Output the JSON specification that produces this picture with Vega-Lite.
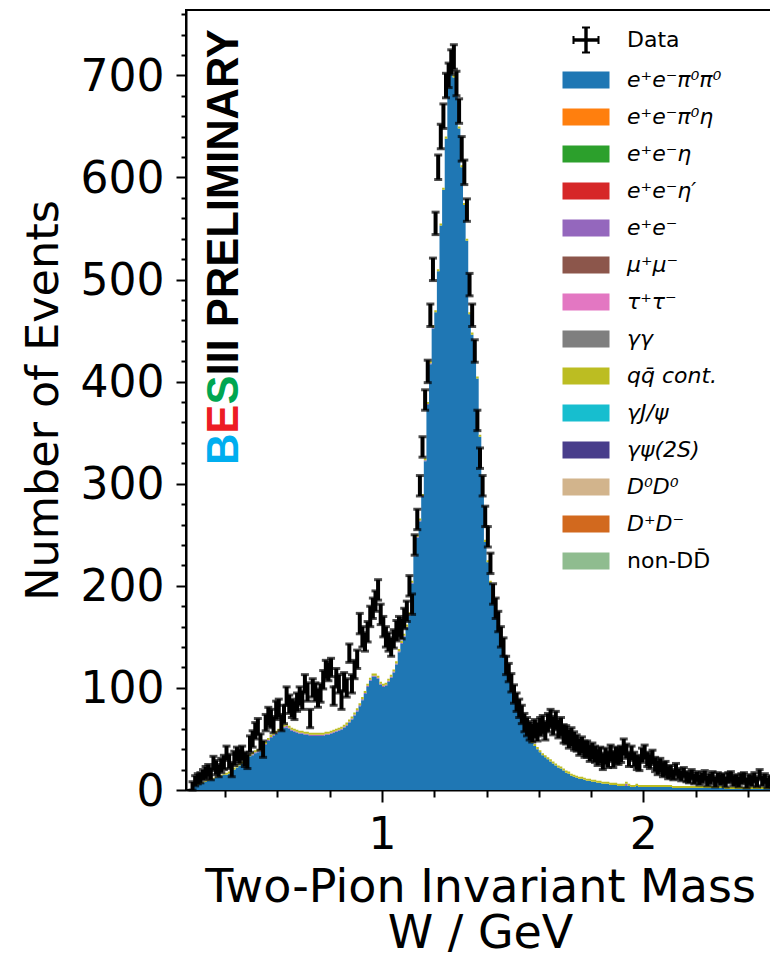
{
"$schema":"https://vega.github.io/schema/vega-lite/v6.json",
"width":588,"height":780,
"autosize":{"type":"none"},
"padding":{"left":186,"top":10,"right":0,"bottom":169},
"background":"white",
"config":{"font":"DejaVu Sans","view":{"stroke":"black","strokeWidth":2},"axis":{"grid":false}},
"resolve":{"axis":{"x":"independent","y":"independent"}},
"data":{"values":[
{"w":0.275,"d":4,"e":4,"a":2,"b":0,"c":0},
{"w":0.285,"d":9,"e":5,"a":4,"b":0,"c":0},
{"w":0.295,"d":11,"e":5,"a":5,"b":0,"c":1},
{"w":0.305,"d":12,"e":5,"a":6,"b":0,"c":1},
{"w":0.315,"d":15,"e":5,"a":7,"b":0,"c":1},
{"w":0.325,"d":17,"e":6,"a":8,"b":0,"c":1},
{"w":0.335,"d":19,"e":6,"a":9,"b":0,"c":1},
{"w":0.345,"d":16,"e":6,"a":10,"b":0,"c":1},
{"w":0.355,"d":26,"e":7,"a":11,"b":0,"c":1},
{"w":0.365,"d":22,"e":7,"a":12,"b":0,"c":1},
{"w":0.375,"d":19,"e":6,"a":13,"b":0,"c":1},
{"w":0.385,"d":24,"e":7,"a":14,"b":0,"c":1},
{"w":0.395,"d":27,"e":7,"a":15,"b":0,"c":1},
{"w":0.405,"d":36,"e":7,"a":15,"b":0,"c":2},
{"w":0.415,"d":28,"e":7,"a":16,"b":0,"c":2},
{"w":0.425,"d":20,"e":7,"a":18,"b":0,"c":2},
{"w":0.435,"d":31,"e":7,"a":20,"b":0,"c":2},
{"w":0.445,"d":35,"e":7,"a":22,"b":0,"c":2},
{"w":0.455,"d":33,"e":7,"a":24,"b":0,"c":2},
{"w":0.465,"d":36,"e":7,"a":26,"b":0,"c":2},
{"w":0.475,"d":30,"e":7,"a":29,"b":0,"c":2},
{"w":0.485,"d":28,"e":7,"a":31,"b":0,"c":2},
{"w":0.495,"d":45,"e":8,"a":33,"b":0,"c":2},
{"w":0.505,"d":50,"e":8,"a":34,"b":1,"c":2},
{"w":0.515,"d":58,"e":8,"a":36,"b":1,"c":2},
{"w":0.525,"d":62,"e":8,"a":37,"b":1,"c":2},
{"w":0.535,"d":47,"e":8,"a":38,"b":1,"c":2},
{"w":0.545,"d":40,"e":8,"a":40,"b":1,"c":2},
{"w":0.555,"d":66,"e":8,"a":44,"b":1,"c":2},
{"w":0.565,"d":72,"e":9,"a":48,"b":1,"c":2},
{"w":0.575,"d":70,"e":9,"a":51,"b":1,"c":2},
{"w":0.585,"d":64,"e":8,"a":53,"b":1,"c":2},
{"w":0.595,"d":78,"e":9,"a":55,"b":1,"c":2},
{"w":0.605,"d":80,"e":9,"a":57,"b":1,"c":2},
{"w":0.615,"d":66,"e":8,"a":59,"b":1,"c":2},
{"w":0.625,"d":74,"e":9,"a":61,"b":1,"c":2},
{"w":0.635,"d":92,"e":9,"a":61,"b":2,"c":2},
{"w":0.645,"d":84,"e":9,"a":60,"b":1,"c":2},
{"w":0.655,"d":80,"e":9,"a":58,"b":1,"c":2},
{"w":0.665,"d":78,"e":9,"a":57,"b":1,"c":2},
{"w":0.675,"d":86,"e":9,"a":56,"b":1,"c":2},
{"w":0.685,"d":92,"e":9,"a":55,"b":1,"c":2},
{"w":0.695,"d":88,"e":9,"a":55,"b":1,"c":2},
{"w":0.705,"d":104,"e":9,"a":54,"b":1,"c":2},
{"w":0.715,"d":96,"e":9,"a":54,"b":1,"c":2},
{"w":0.725,"d":70,"e":9,"a":53,"b":1,"c":2},
{"w":0.735,"d":100,"e":9,"a":53,"b":1,"c":2},
{"w":0.745,"d":96,"e":9,"a":53,"b":1,"c":2},
{"w":0.755,"d":90,"e":9,"a":53,"b":1,"c":2},
{"w":0.765,"d":95,"e":9,"a":53,"b":1,"c":2},
{"w":0.775,"d":108,"e":9,"a":53,"b":1,"c":2},
{"w":0.785,"d":118,"e":9,"a":54,"b":1,"c":2},
{"w":0.795,"d":116,"e":9,"a":54,"b":1,"c":2},
{"w":0.805,"d":120,"e":9,"a":55,"b":1,"c":2},
{"w":0.815,"d":92,"e":9,"a":56,"b":1,"c":2},
{"w":0.825,"d":110,"e":9,"a":57,"b":1,"c":2},
{"w":0.835,"d":104,"e":9,"a":58,"b":1,"c":2},
{"w":0.845,"d":88,"e":9,"a":59,"b":1,"c":2},
{"w":0.855,"d":106,"e":9,"a":61,"b":1,"c":2},
{"w":0.865,"d":100,"e":9,"a":63,"b":1,"c":2},
{"w":0.875,"d":134,"e":9,"a":66,"b":1,"c":2},
{"w":0.885,"d":104,"e":9,"a":69,"b":1,"c":2},
{"w":0.895,"d":118,"e":9,"a":73,"b":1,"c":2},
{"w":0.905,"d":128,"e":9,"a":77,"b":1,"c":2},
{"w":0.915,"d":163,"e":10,"a":82,"b":1,"c":2},
{"w":0.925,"d":150,"e":10,"a":88,"b":1,"c":2},
{"w":0.935,"d":145,"e":9,"a":94,"b":1,"c":2},
{"w":0.945,"d":155,"e":10,"a":101,"b":1,"c":2},
{"w":0.955,"d":170,"e":10,"a":107,"b":1,"c":2},
{"w":0.965,"d":178,"e":10,"a":111,"b":1,"c":2},
{"w":0.975,"d":185,"e":10,"a":111,"b":1,"c":2},
{"w":0.985,"d":196,"e":10,"a":109,"b":1,"c":2},
{"w":0.995,"d":172,"e":10,"a":103,"b":1,"c":2},
{"w":1.005,"d":160,"e":10,"a":101,"b":1,"c":2},
{"w":1.015,"d":150,"e":10,"a":102,"b":1,"c":2},
{"w":1.025,"d":145,"e":9,"a":106,"b":1,"c":2},
{"w":1.035,"d":140,"e":9,"a":110,"b":1,"c":2},
{"w":1.045,"d":148,"e":9,"a":115,"b":1,"c":2},
{"w":1.055,"d":156,"e":10,"a":123,"b":1,"c":2},
{"w":1.065,"d":160,"e":10,"a":135,"b":1,"c":2},
{"w":1.075,"d":158,"e":10,"a":143,"b":1,"c":2},
{"w":1.085,"d":168,"e":10,"a":150,"b":1,"c":2},
{"w":1.095,"d":175,"e":10,"a":159,"b":1,"c":2},
{"w":1.105,"d":200,"e":10,"a":171,"b":1,"c":2},
{"w":1.115,"d":182,"e":10,"a":202,"b":1,"c":2},
{"w":1.125,"d":240,"e":10,"a":229,"b":1,"c":2},
{"w":1.135,"d":265,"e":10,"a":247,"b":1,"c":2},
{"w":1.145,"d":298,"e":10,"a":263,"b":1,"c":2},
{"w":1.155,"d":336,"e":10,"a":287,"b":1,"c":2},
{"w":1.165,"d":382,"e":10,"a":322,"b":1,"c":2},
{"w":1.175,"d":410,"e":11,"a":377,"b":1,"c":2},
{"w":1.185,"d":465,"e":11,"a":417,"b":1,"c":2},
{"w":1.195,"d":510,"e":11,"a":452,"b":1,"c":2},
{"w":1.205,"d":555,"e":11,"a":468,"b":0,"c":2},
{"w":1.215,"d":610,"e":12,"a":508,"b":0,"c":2},
{"w":1.225,"d":640,"e":12,"a":553,"b":0,"c":2},
{"w":1.235,"d":660,"e":12,"a":588,"b":0,"c":2},
{"w":1.245,"d":690,"e":12,"a":638,"b":0,"c":2},
{"w":1.255,"d":700,"e":12,"a":688,"b":0,"c":2},
{"w":1.265,"d":713,"e":12,"a":704,"b":0,"c":2},
{"w":1.275,"d":718,"e":12,"a":698,"b":0,"c":2},
{"w":1.285,"d":692,"e":12,"a":680,"b":0,"c":2},
{"w":1.295,"d":665,"e":12,"a":648,"b":0,"c":2},
{"w":1.305,"d":628,"e":12,"a":610,"b":0,"c":2},
{"w":1.315,"d":605,"e":12,"a":573,"b":0,"c":2},
{"w":1.325,"d":568,"e":11,"a":538,"b":0,"c":2},
{"w":1.335,"d":495,"e":11,"a":466,"b":0,"c":2},
{"w":1.345,"d":465,"e":11,"a":446,"b":0,"c":2},
{"w":1.355,"d":430,"e":11,"a":428,"b":0,"c":2},
{"w":1.365,"d":362,"e":10,"a":403,"b":0,"c":2},
{"w":1.375,"d":325,"e":10,"a":346,"b":0,"c":2},
{"w":1.385,"d":298,"e":10,"a":303,"b":0,"c":2},
{"w":1.395,"d":268,"e":10,"a":243,"b":0,"c":2},
{"w":1.405,"d":248,"e":10,"a":223,"b":0,"c":2},
{"w":1.415,"d":222,"e":10,"a":203,"b":0,"c":2},
{"w":1.425,"d":192,"e":10,"a":188,"b":0,"c":2},
{"w":1.435,"d":178,"e":10,"a":174,"b":0,"c":2},
{"w":1.445,"d":165,"e":10,"a":162,"b":0,"c":2},
{"w":1.455,"d":150,"e":10,"a":152,"b":0,"c":2},
{"w":1.465,"d":140,"e":9,"a":140,"b":0,"c":2},
{"w":1.475,"d":122,"e":9,"a":128,"b":0,"c":2},
{"w":1.485,"d":115,"e":9,"a":117,"b":0,"c":2},
{"w":1.495,"d":105,"e":9,"a":105,"b":0,"c":2},
{"w":1.505,"d":94,"e":9,"a":94,"b":0,"c":2},
{"w":1.515,"d":86,"e":9,"a":85,"b":0,"c":2},
{"w":1.525,"d":80,"e":9,"a":76,"b":0,"c":2},
{"w":1.535,"d":74,"e":9,"a":68,"b":0,"c":2},
{"w":1.545,"d":66,"e":9,"a":61,"b":0,"c":2},
{"w":1.555,"d":62,"e":9,"a":55,"b":0,"c":2},
{"w":1.565,"d":58,"e":9,"a":50,"b":0,"c":2},
{"w":1.575,"d":56,"e":9,"a":46,"b":0,"c":2},
{"w":1.585,"d":60,"e":9,"a":43,"b":0,"c":2},
{"w":1.595,"d":57,"e":9,"a":40,"b":0,"c":2},
{"w":1.605,"d":62,"e":9,"a":37,"b":0,"c":2},
{"w":1.615,"d":64,"e":9,"a":34,"b":0,"c":2},
{"w":1.625,"d":58,"e":9,"a":32,"b":0,"c":2},
{"w":1.635,"d":66,"e":9,"a":30,"b":0,"c":2},
{"w":1.645,"d":70,"e":9,"a":28,"b":0,"c":2},
{"w":1.655,"d":63,"e":9,"a":26,"b":0,"c":2},
{"w":1.665,"d":68,"e":9,"a":24,"b":0,"c":2},
{"w":1.675,"d":60,"e":9,"a":22,"b":0,"c":2},
{"w":1.685,"d":62,"e":9,"a":21,"b":0,"c":2},
{"w":1.695,"d":55,"e":9,"a":19,"b":0,"c":2},
{"w":1.705,"d":54,"e":9,"a":17,"b":0,"c":2},
{"w":1.715,"d":50,"e":9,"a":16,"b":0,"c":2},
{"w":1.725,"d":52,"e":9,"a":14,"b":0,"c":2},
{"w":1.735,"d":48,"e":9,"a":13,"b":0,"c":2},
{"w":1.745,"d":46,"e":8,"a":12,"b":0,"c":2},
{"w":1.755,"d":42,"e":8,"a":11,"b":0,"c":2},
{"w":1.765,"d":44,"e":8,"a":11,"b":0,"c":2},
{"w":1.775,"d":40,"e":8,"a":10,"b":0,"c":2},
{"w":1.785,"d":40,"e":8,"a":9,"b":0,"c":2},
{"w":1.795,"d":36,"e":8,"a":9,"b":0,"c":2},
{"w":1.805,"d":38,"e":8,"a":8,"b":0,"c":2},
{"w":1.815,"d":35,"e":8,"a":8,"b":0,"c":2},
{"w":1.825,"d":32,"e":8,"a":7,"b":0,"c":2},
{"w":1.835,"d":34,"e":8,"a":7,"b":0,"c":2},
{"w":1.845,"d":28,"e":8,"a":6,"b":0,"c":2},
{"w":1.855,"d":33,"e":8,"a":6,"b":0,"c":2},
{"w":1.865,"d":30,"e":8,"a":6,"b":0,"c":2},
{"w":1.875,"d":36,"e":8,"a":5,"b":0,"c":2},
{"w":1.885,"d":30,"e":8,"a":5,"b":0,"c":2},
{"w":1.895,"d":34,"e":8,"a":5,"b":0,"c":2},
{"w":1.905,"d":33,"e":8,"a":4,"b":0,"c":2},
{"w":1.915,"d":35,"e":8,"a":4,"b":0,"c":2},
{"w":1.925,"d":42,"e":8,"a":4,"b":0,"c":2},
{"w":1.935,"d":38,"e":7,"a":4,"b":2,"c":2},
{"w":1.945,"d":30,"e":7,"a":4,"b":0,"c":2},
{"w":1.955,"d":36,"e":7,"a":3,"b":0,"c":2},
{"w":1.965,"d":30,"e":7,"a":3,"b":0,"c":2},
{"w":1.975,"d":27,"e":7,"a":4,"b":0,"c":2},
{"w":1.985,"d":26,"e":7,"a":3,"b":0,"c":2},
{"w":1.995,"d":34,"e":7,"a":3,"b":0,"c":2},
{"w":2.005,"d":37,"e":7,"a":3,"b":0,"c":2},
{"w":2.015,"d":30,"e":7,"a":3,"b":0,"c":2},
{"w":2.025,"d":28,"e":7,"a":3,"b":0,"c":2},
{"w":2.035,"d":32,"e":7,"a":3,"b":0,"c":2},
{"w":2.045,"d":25,"e":7,"a":3,"b":0,"c":2},
{"w":2.055,"d":22,"e":7,"a":3,"b":0,"c":2},
{"w":2.065,"d":24,"e":7,"a":3,"b":0,"c":2},
{"w":2.075,"d":20,"e":7,"a":3,"b":0,"c":2},
{"w":2.085,"d":21,"e":7,"a":3,"b":0,"c":2},
{"w":2.095,"d":17,"e":6,"a":3,"b":0,"c":2},
{"w":2.105,"d":18,"e":6,"a":3,"b":0,"c":2},
{"w":2.115,"d":15,"e":5,"a":2,"b":0,"c":2},
{"w":2.125,"d":20,"e":6,"a":2,"b":0,"c":2},
{"w":2.135,"d":16,"e":5,"a":2,"b":0,"c":2},
{"w":2.145,"d":14,"e":5,"a":2,"b":0,"c":2},
{"w":2.155,"d":17,"e":5,"a":2,"b":0,"c":2},
{"w":2.165,"d":13,"e":5,"a":2,"b":0,"c":2},
{"w":2.175,"d":12,"e":5,"a":2,"b":0,"c":2},
{"w":2.185,"d":15,"e":5,"a":2,"b":0,"c":2},
{"w":2.195,"d":11,"e":5,"a":2,"b":0,"c":2},
{"w":2.205,"d":13,"e":5,"a":2,"b":0,"c":2},
{"w":2.215,"d":10,"e":5,"a":2,"b":0,"c":2},
{"w":2.225,"d":12,"e":5,"a":2,"b":0,"c":2},
{"w":2.235,"d":14,"e":5,"a":2,"b":0,"c":2},
{"w":2.245,"d":9,"e":5,"a":2,"b":0,"c":2},
{"w":2.255,"d":11,"e":5,"a":2,"b":0,"c":2},
{"w":2.265,"d":13,"e":5,"a":2,"b":0,"c":2},
{"w":2.275,"d":8,"e":5,"a":2,"b":0,"c":2},
{"w":2.285,"d":12,"e":5,"a":2,"b":0,"c":2},
{"w":2.295,"d":10,"e":5,"a":2,"b":0,"c":2},
{"w":2.305,"d":11,"e":5,"a":2,"b":0,"c":2},
{"w":2.315,"d":8,"e":5,"a":1,"b":0,"c":2},
{"w":2.325,"d":12,"e":5,"a":1,"b":0,"c":2},
{"w":2.335,"d":13,"e":5,"a":1,"b":0,"c":2},
{"w":2.345,"d":9,"e":5,"a":1,"b":0,"c":2},
{"w":2.355,"d":10,"e":5,"a":1,"b":0,"c":2},
{"w":2.365,"d":8,"e":5,"a":1,"b":0,"c":2},
{"w":2.375,"d":11,"e":5,"a":1,"b":0,"c":2},
{"w":2.385,"d":12,"e":5,"a":1,"b":0,"c":2},
{"w":2.395,"d":7,"e":5,"a":1,"b":0,"c":2},
{"w":2.405,"d":10,"e":5,"a":1,"b":0,"c":2},
{"w":2.415,"d":9,"e":5,"a":1,"b":0,"c":2},
{"w":2.425,"d":12,"e":5,"a":1,"b":0,"c":2},
{"w":2.435,"d":8,"e":5,"a":1,"b":0,"c":2},
{"w":2.445,"d":15,"e":5,"a":1,"b":0,"c":2},
{"w":2.455,"d":9,"e":5,"a":1,"b":0,"c":2},
{"w":2.465,"d":11,"e":5,"a":1,"b":0,"c":2},
{"w":2.475,"d":7,"e":5,"a":1,"b":0,"c":2},
{"w":2.485,"d":9,"e":5,"a":1,"b":0,"c":2},
{"w":2.495,"d":8,"e":5,"a":1,"b":0,"c":2}
]},
"layer":[
{
"transform":[{"fold":["a","b","c"],"as":["k","n"]}],
"mark":{"type":"area","interpolate":"step","opacity":1},
"encoding":{
"x":{"field":"w","type":"quantitative","scale":{"domain":[0.25,2.5],"nice":false,"zero":false},
"axis":{"orient":"bottom","values":[1,2],"format":"d","tickSize":12,
"tickWidth":2,"tickColor":"black","domainColor":"black","domainWidth":2,
"labelFontSize":44,"labelColor":"black","labelPadding":11,"labelOverlap":false,"labelFlush":false,"labelBound":false,
"title":["Two-Pion Invariant Mass","W / GeV"],"titleFontSize":46,"titleFontWeight":"normal","titleColor":"black","titlePadding":8,"titleLineHeight":46}},
"y":{"field":"n","type":"quantitative","stack":"zero","scale":{"domain":[0,764],"nice":false},
"axis":{"orient":"left","values":[0,100,200,300,400,500,600,700],"format":"d","tickSize":10,
"tickWidth":2,"tickColor":"black","domainColor":"black","domainWidth":2,
"labelFontSize":44,"labelColor":"black","labelPadding":12,"labelOffset":2,"labelOverlap":false,"labelFlush":false,"labelBound":false,
"title":"Number of Events","titleFontSize":44.5,"titleFontWeight":"normal","titleColor":"black","titlePadding":14}},
"color":{"field":"k","type":"nominal",
"scale":{"domain":["Data","a","f2","f3","f4","b","f6","f7","f8","c","f10","f11","f12","f13","n"],
"range":["black","#1f77b4","#ff7f0e","#2ca02c","#d62728","#9467bd","#8c564b","#e377c2","#7f7f7f","#bcbd22","#17becf","#483d8b","#d2b48c","#d2691e","#8fbc8f"]},
"legend":{"orient":"none","legendX":374,"legendY":19,"title":null,"padding":0,
"labelFontSize":22,"labelFont":"DejaVu Sans","labelColor":"black","labelLimit":400,
"labelExpr":"['Data','e⁺e⁻π⁰π⁰','e⁺e⁻π⁰η','e⁺e⁻η','e⁺e⁻η′','e⁺e⁻','μ⁺μ⁻','τ⁺τ⁻','γγ','qq̄ cont.','γJ/ψ','γψ(2S)','D⁰D⁰','D⁺D⁻','non-DD̄'][indexof(['Data','a','f2','f3','f4','b','f6','f7','f8','c','f10','f11','f12','f13','n'], datum.value)]",
"symbolSize":289,"symbolStrokeWidth":0,"symbolOpacity":1,"rowPadding":15,"labelOffset":45,
"encode":{"symbols":{"update":{"shape":{"signal":"datum.value == 'Data' ? 'M1.565,-1.59H1.965V1.59H1.565Z M0.175,-0.2H3.355V0.2H0.175Z M1.295,-1.59H2.235V-1.35H1.295Z M1.295,1.35H2.235V1.59H1.295Z M0.175,-0.47H0.415V0.47H0.175Z M3.115,-0.47H3.355V0.47H3.115Z' : 'M-1,-1H4.53V1H-1Z'"}}},
"labels":{"update":{"fontStyle":{"signal":"datum.value == 'Data' || datum.value == 'n' ? 'normal' : 'italic'"}}}}}},
"order":{"field":"k","sort":"ascending"}
}
},
{
"mark":{"type":"errorbar","ticks":{"thickness":3},"thickness":4,"size":8,"color":"black"},
"encoding":{
"x":{"field":"w","type":"quantitative","axis":null},
"y":{"field":"d","type":"quantitative","axis":null},
"yError":{"field":"e"}
}
},
{
"data":{"values":[{}]},
"mark":{"type":"text","text":"B","angle":270,"align":"left","baseline":"middle","font":"Liberation Sans","fontWeight":"bold","fontSize":43.5,"color":"#00aeef"},
"encoding":{"x":{"datum":0.399,"type":"quantitative",
"axis":{"orient":"bottom","values":[0.4,0.6,0.8,1.2,1.4,1.6,1.8,2.2,2.4],"labels":false,"domain":false,"tickSize":7,"tickWidth":2,"tickColor":"black","title":null,"grid":false}},
"y":{"datum":318.3,"type":"quantitative",
"axis":{"orient":"left","values":[20,40,60,80,120,140,160,180,220,240,260,280,320,340,360,380,420,440,460,480,520,540,560,580,620,640,660,680,720,740,760],"labels":false,"domain":false,"tickSize":5,"tickWidth":2,"tickColor":"black","title":null,"grid":false}}}
},
{
"data":{"values":[{}]},
"mark":{"type":"text","text":"E","angle":270,"align":"left","baseline":"middle","font":"Liberation Sans","fontWeight":"bold","fontSize":43.5,"color":"#ed1c24"},
"encoding":{"x":{"datum":0.399,"type":"quantitative","axis":null},"y":{"datum":349.06,"type":"quantitative","axis":null}}
},
{
"data":{"values":[{}]},
"mark":{"type":"text","text":"S","angle":270,"align":"left","baseline":"middle","font":"Liberation Sans","fontWeight":"bold","fontSize":43.5,"color":"#00a651"},
"encoding":{"x":{"datum":0.399,"type":"quantitative","axis":null},"y":{"datum":377.48,"type":"quantitative","axis":null}}
},
{
"data":{"values":[{}]},
"mark":{"type":"text","text":"III PRELIMINARY","angle":270,"align":"left","baseline":"middle","font":"Liberation Sans","fontWeight":"bold","fontSize":43.5,"color":"black"},
"encoding":{"x":{"datum":0.399,"type":"quantitative","axis":null},"y":{"datum":405.9,"type":"quantitative","axis":null}}
}
]
}
